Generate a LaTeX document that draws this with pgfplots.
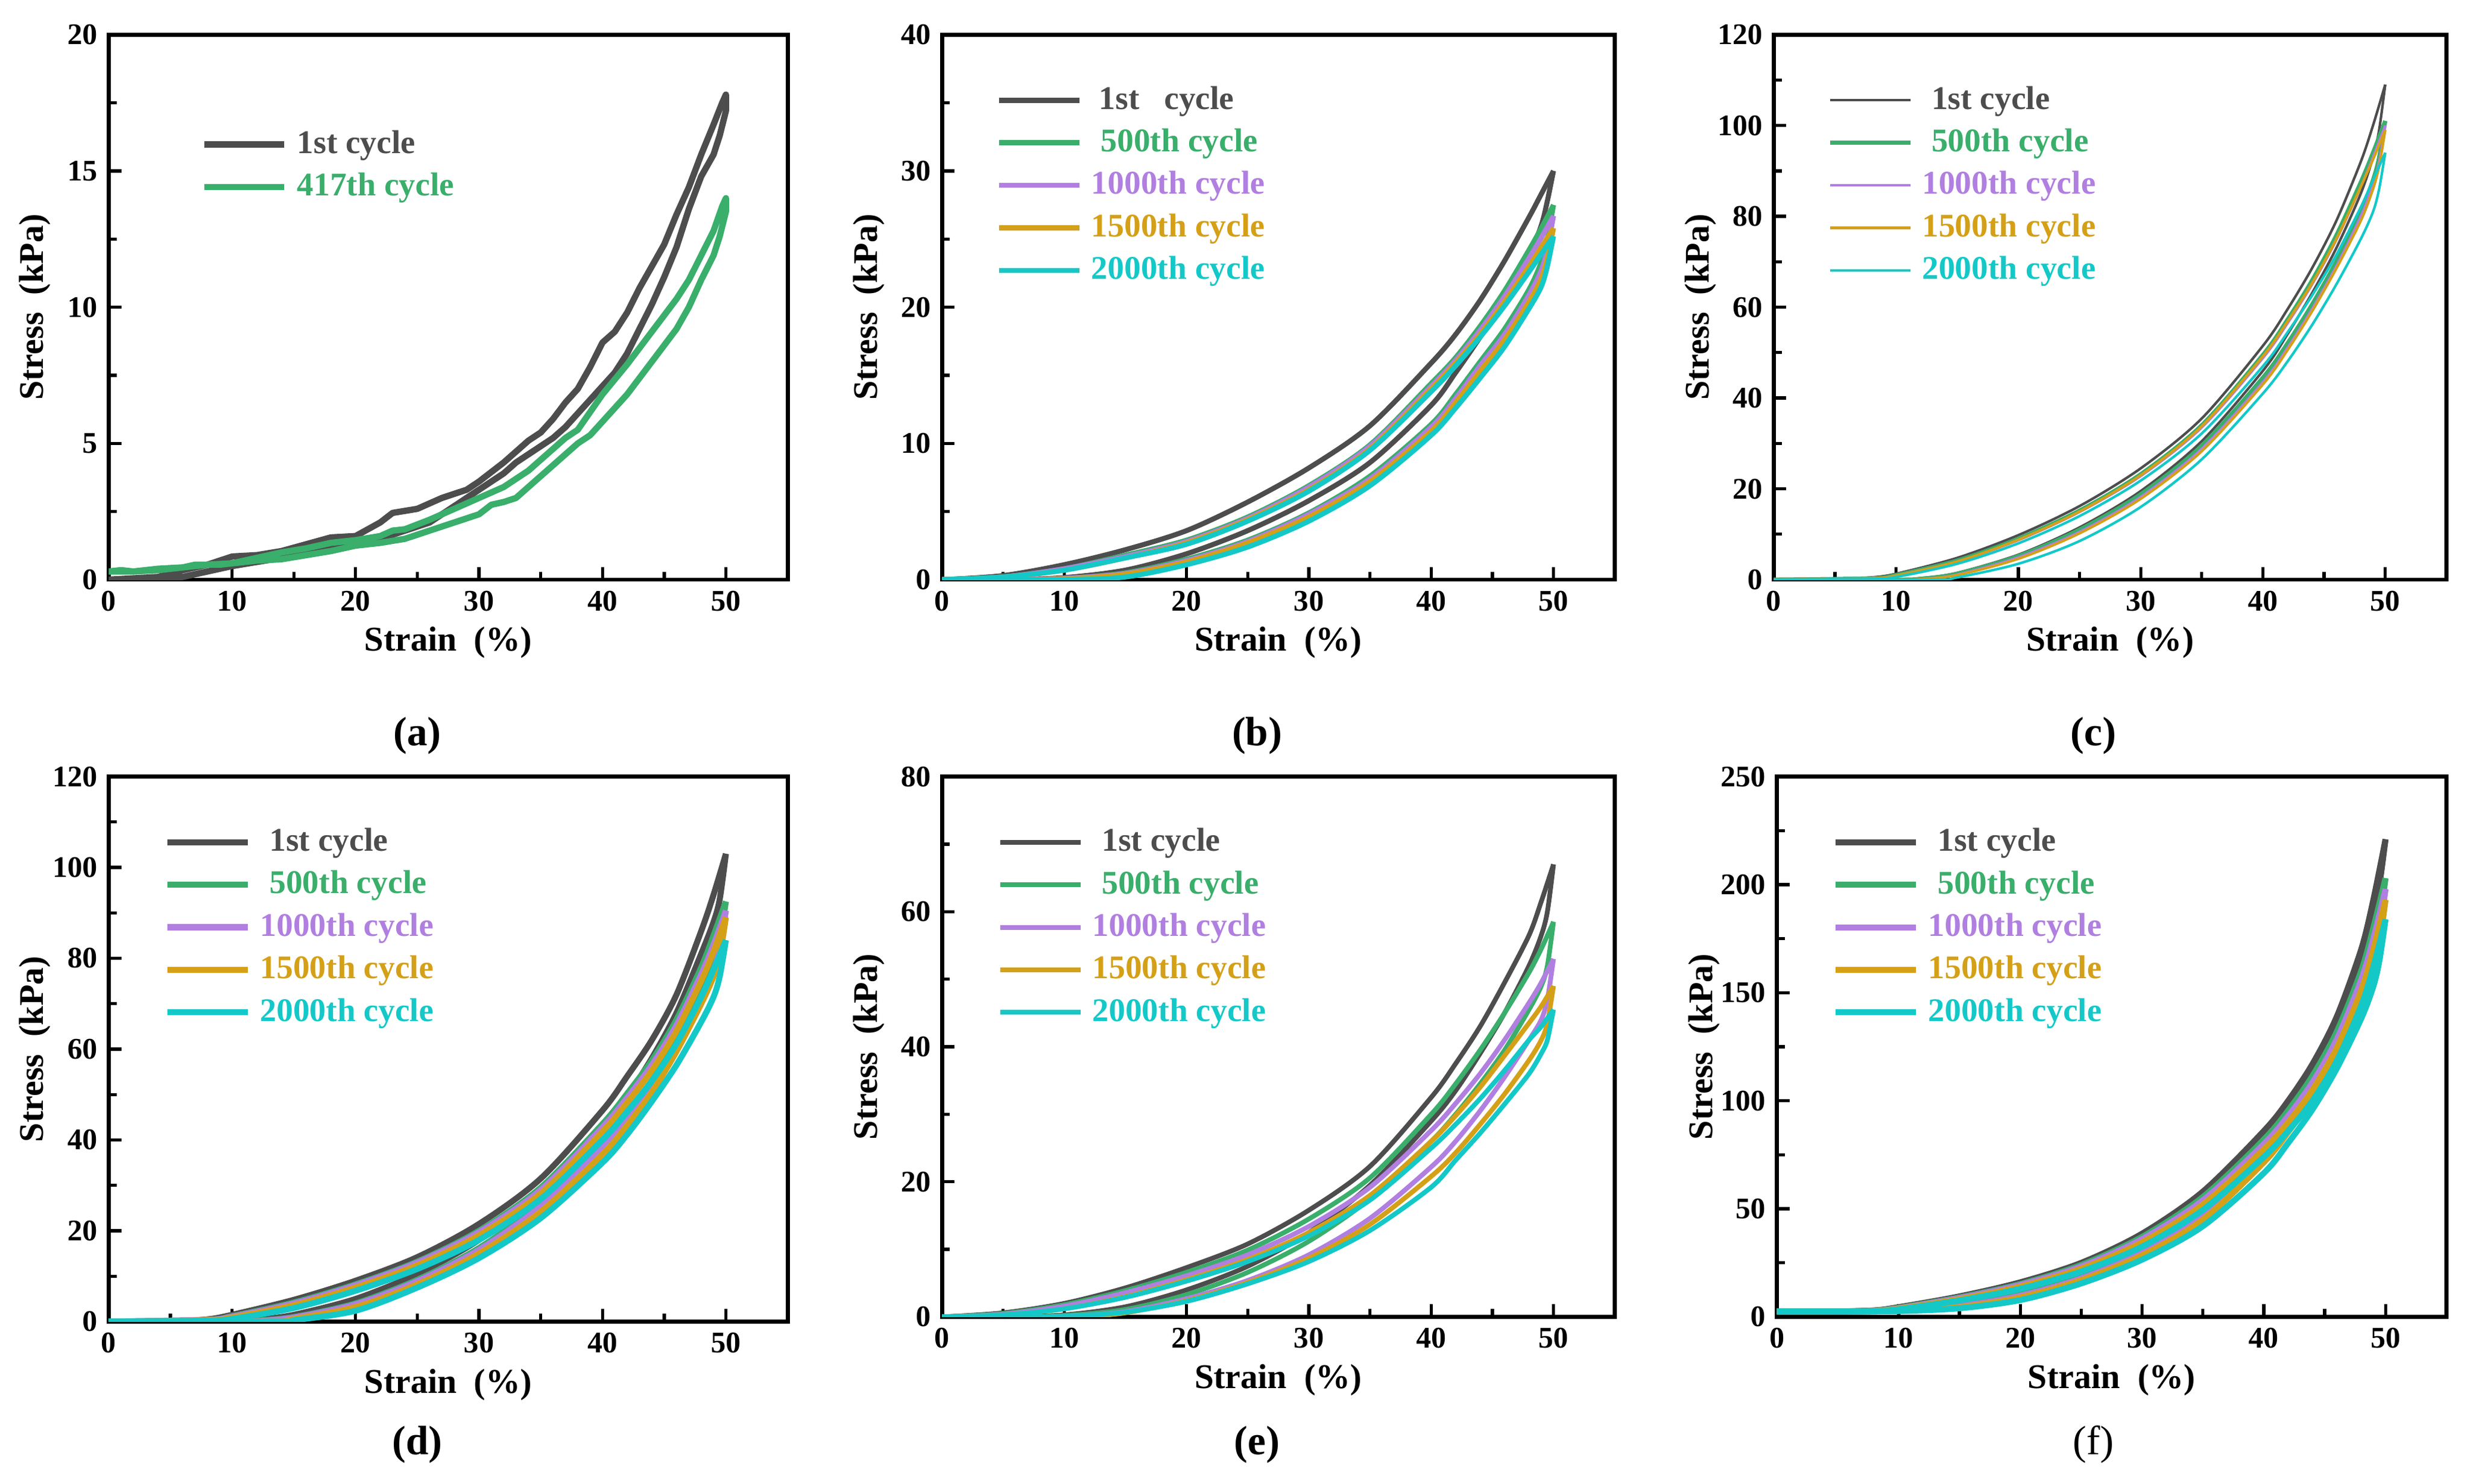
\documentclass[border=0pt]{standalone}
\usepackage{fontspec}
\setmainfont{Liberation Serif}
\usepackage{pgfplots}
\pgfplotsset{compat=1.18}
\definecolor{cgray}{HTML}{4D4D4D}
\definecolor{cgreen}{HTML}{3AAE6B}
\definecolor{cpurple}{HTML}{B07FE0}
\definecolor{corange}{HTML}{D4A017}
\definecolor{ccyan}{HTML}{14C8C8}
\pgfplotsset{
 panel/.style={
  scale only axis, anchor=south west,
  xmin=0, xmax=55, ymin=0,
  xtick={0,10,20,30,40,50},
  minor x tick num=1, minor y tick num=1,
  tick align=inside, xtick pos=bottom, ytick pos=left,
  major tick length=4pt, minor tick length=2.5pt,
  every tick/.style={line width=1pt, black},
  axis line style={line width=1.3pt},
  /pgf/number format/assume math mode=true,
  ticklabel style={font=\fontsize{9.5}{11}\selectfont\bfseries},
  xlabel={Strain\ \ (\%)}, ylabel={Stress\ \ (kPa)},
  label style={font=\fontsize{11}{13}\selectfont\bfseries},
  xlabel style={at={(axis description cs:0.5,0)}, yshift=-20pt, anchor=center},
  ylabel style={at={(axis description cs:-0.109,0.5)}, anchor=center},
  legend cell align=left,
  legend image code/.code={\draw[##1] (0pt,0.3pt) -- (25.5pt,0.3pt);},
  legend style={draw=none, fill=none, anchor=north west, inner sep=0pt, row sep=4.5pt, column sep=3pt, font=\fontsize{10.5}{12}\selectfont\bfseries, nodes={inner sep=0pt, text height=7pt, text depth=2pt}},
  every axis plot/.append style={line join=round},
 }
}
\begin{document}
\begin{tikzpicture}
\path[use as bounding box] (0,0) rectangle (784pt,471pt);
% (a)
\begin{axis}[panel, at={(34.5pt,287pt)}, width=215.5pt, height=173pt, ymax=20, ytick={0,5,10,15,20},
  legend style={at={(axis description cs:0.135,0.824)}}]
\addplot[cgray, line width=2pt] coordinates {(0,0)(2,0.05)(4,0.1)(6,0.35)(8,0.55)(10,0.85)(12,0.9)(14,1.05)(16,1.3)(18,1.55)(20,1.6)(22,2.1)(23,2.45)(25,2.6)(27,3.0)(29,3.3)(30,3.6)(32,4.3)(33,4.7)(34,5.1)(35,5.4)(36,5.9)(37,6.5)(38,7.0)(39,7.8)(40,8.7)(41,9.1)(42,9.8)(43,10.7)(44,11.5)(45,12.3)(46,13.4)(47,14.4)(48,15.6)(49,16.7)(49.7,17.5)(50,17.8)(50,17.2)(49.5,16.3)(49,15.6)(48,14.8)(47,13.6)(46,12.2)(45,11.1)(44,10.1)(43,9.2)(42,8.3)(41,7.6)(40,7.1)(39,6.6)(38,6.1)(37,5.6)(36,5.2)(35,4.9)(34,4.6)(33,4.3)(32,3.9)(31,3.6)(30,3.3)(29,3.0)(28,2.7)(27,2.4)(26,2.1)(25,1.95)(24,1.8)(22,1.5)(20,1.3)(18,1.15)(16,0.95)(14,0.8)(12,0.65)(10,0.5)(8,0.3)(6,0.1)(4,0)(0,0)};
\addlegendentry{\textcolor{cgray}{1st cycle}}
\addplot[cgreen, line width=2pt] coordinates {(0,0.3)(1,0.35)(2,0.3)(4,0.4)(6,0.45)(7,0.55)(9,0.55)(10,0.6)(12,0.8)(14,1.0)(16,1.15)(18,1.35)(20,1.45)(22,1.6)(23,1.8)(24,1.85)(26,2.2)(28,2.6)(30,3.0)(32,3.4)(34,4.0)(36,4.8)(37,5.2)(38,5.5)(40,6.8)(42,7.9)(44,9.1)(46,10.3)(47,11.0)(48,11.9)(49,12.8)(49.7,13.7)(50,14.0)(50,13.5)(49.5,12.6)(49,11.9)(48,11.0)(47,10.0)(46,9.2)(45,8.6)(44,8.0)(43,7.4)(42,6.8)(41,6.3)(40,5.8)(39,5.3)(38,5.0)(37,4.6)(36,4.2)(35,3.8)(34,3.4)(33,3.0)(32,2.85)(31,2.75)(30,2.4)(28,2.1)(26,1.8)(24,1.5)(22,1.35)(20,1.25)(18,1.05)(16,0.9)(14,0.75)(12,0.7)(10,0.6)(8,0.55)(6,0.45)(4,0.35)(2,0.3)(0,0.3)};
\addlegendentry{\textcolor{cgreen}{417th cycle}}
\end{axis}
% (b)
\begin{axis}[panel, at={(299pt,287pt)}, width=213.5pt, height=173pt, ymax=40, ytick={0,10,20,30,40},
  legend style={at={(axis description cs:0.08,0.905)}},
  every axis plot/.append style={smooth, line width=1.6pt}]
\addplot[cgray] coordinates {(0,0)(5,0.3)(10,1.1)(15,2.2)(20,3.6)(25,5.7)(30,8.2)(35,11.3)(40,15.9)(42,18.0)(44,20.5)(46,23.4)(48,26.6)(49,28.3)(50,30.0)};
\addlegendentry{\textcolor{cgray}{\hspace{2.5pt}1st\ \ \ cycle}}
\addplot[cgray, forget plot] coordinates {(50,30.0)(49.5,27.8)(49,26.0)(48,23.8)(46,20.6)(44,17.8)(42,15.2)(40,12.8)(35,8.6)(30,5.8)(25,3.6)(20,1.9)(15,0.7)(10,0.15)(5,0)(0,0)};
\addplot[cgreen] coordinates {(0,0)(5,0.2)(10,0.8)(15,1.8)(20,2.9)(25,4.6)(30,6.9)(35,9.9)(40,14.4)(42,16.3)(44,18.6)(46,21.2)(48,24.2)(49,25.8)(50,27.5)};
\addlegendentry{\textcolor{cgreen}{\hspace{3pt}500th cycle}}
\addplot[cgreen, forget plot] coordinates {(50,27.5)(49.5,25.0)(49,23.3)(48,21.3)(46,18.4)(44,16.0)(42,13.6)(40,11.4)(35,7.6)(30,4.9)(25,2.9)(20,1.5)(15,0.5)(10,0.1)(5,0)(0,0)};
\addplot[cpurple] coordinates {(0,0)(5,0.2)(10,0.8)(15,1.7)(20,2.8)(25,4.5)(30,6.8)(35,9.8)(40,14.2)(42,16.1)(44,18.3)(46,20.8)(48,23.6)(49,25.1)(50,26.7)};
\addlegendentry{\textcolor{cpurple}{1000th cycle}}
\addplot[cpurple, forget plot] coordinates {(50,26.7)(49.5,24.3)(49,22.7)(48,20.9)(46,18.0)(44,15.7)(42,13.3)(40,11.2)(35,7.4)(30,4.8)(25,2.8)(20,1.4)(15,0.45)(10,0.1)(5,0)(0,0)};
\addplot[corange] coordinates {(0,0)(5,0.2)(10,0.7)(15,1.6)(20,2.7)(25,4.4)(30,6.6)(35,9.6)(40,14.0)(42,15.9)(44,18.0)(46,20.4)(48,23.0)(49,24.4)(50,25.8)};
\addlegendentry{\textcolor{corange}{1500th cycle}}
\addplot[corange, forget plot] coordinates {(50,25.8)(49.5,23.6)(49,22.1)(48,20.4)(46,17.6)(44,15.3)(42,13.0)(40,10.9)(35,7.2)(30,4.6)(25,2.7)(20,1.3)(15,0.4)(10,0.05)(5,0)(0,0)};
\addplot[ccyan] coordinates {(0,0)(5,0.2)(10,0.7)(15,1.6)(20,2.6)(25,4.3)(30,6.5)(35,9.5)(40,13.8)(42,15.7)(44,17.8)(46,20.1)(48,22.6)(49,23.9)(50,25.2)};
\addlegendentry{\textcolor{ccyan}{2000th cycle}}
\addplot[ccyan, forget plot] coordinates {(50,25.2)(49.5,23.0)(49,21.5)(48,19.9)(46,17.1)(44,14.8)(42,12.6)(40,10.6)(35,6.9)(30,4.3)(25,2.4)(20,1.1)(15,0.2)(10,0)(0,0)};
\end{axis}
% (c)
\begin{axis}[panel, at={(563pt,287pt)}, width=213.5pt, height=173pt, ymax=120, ytick={0,20,40,60,80,100,120},
  legend style={at={(axis description cs:0.08,0.905)}},
  every axis plot/.append style={smooth, line width=0.8pt}]
\addplot[cgray] coordinates {(0,0)(5,0)(8,0.5)(10,1.3)(15,4.8)(20,9.8)(25,16.2)(30,24.5)(35,35.5)(40,51.5)(42,59.5)(44,68.5)(46,79)(48,92)(49,100)(50,109)};
\addlegendentry{\textcolor{cgray}{\hspace{3pt}1st cycle}}
\addplot[cgray, forget plot] coordinates {(50,109)(49.5,99)(49,93)(48,85)(46,73)(44,63)(42,54)(40,46)(35,30.5)(30,19.5)(25,11.5)(20,5.5)(15,1.5)(12,0.3)(10,0)(0,0)};
\addplot[cgreen, line width=1.3pt] coordinates {(0,0)(8,0.3)(10,1.0)(15,4.2)(20,9.0)(25,15.2)(30,23.2)(35,34)(40,49.5)(42,57.2)(44,65.8)(46,75.8)(48,87.5)(49,94)(50,101)};
\addlegendentry{\textcolor{cgreen}{\hspace{3pt}500th cycle}}
\addplot[cgreen, line width=1.3pt, forget plot] coordinates {(50,101)(49.5,93)(49,88)(48,81)(46,70)(44,60.5)(42,52)(40,44.5)(35,29.5)(30,18.8)(25,11)(20,5.2)(15,1.3)(12,0.2)(10,0)(0,0)};
\addplot[cpurple] coordinates {(0,0)(8,0.3)(10,0.9)(15,4.0)(20,8.7)(25,14.9)(30,22.8)(35,33.5)(40,48.8)(42,56.4)(44,64.9)(46,74.8)(48,86.5)(49,93)(50,100)};
\addlegendentry{\textcolor{cpurple}{1000th cycle}}
\addplot[cpurple, forget plot] coordinates {(50,100)(49.5,92)(49,87)(48,80)(46,69)(44,59.5)(42,51)(40,43.5)(35,28.8)(30,18.2)(25,10.5)(20,4.9)(15,1.1)(12,0.1)(10,0)(0,0)};
\addplot[corange] coordinates {(0,0)(8,0.3)(10,0.9)(15,4.0)(20,8.8)(25,15.0)(30,23.0)(35,33.8)(40,49.2)(42,56.8)(44,65.2)(46,75)(48,86.5)(49,92.5)(50,99)};
\addlegendentry{\textcolor{corange}{1500th cycle}}
\addplot[corange, forget plot] coordinates {(50,99)(49.5,91)(49,86)(48,79)(46,68.5)(44,59)(42,50.5)(40,43)(35,28.3)(30,17.8)(25,10.2)(20,4.6)(15,1.0)(12,0.1)(10,0)(0,0)};
\addplot[ccyan] coordinates {(0,0)(8,0.2)(10,0.6)(15,3.5)(20,8.0)(25,14.0)(30,21.8)(35,32.2)(40,47.0)(42,54.4)(44,62.5)(46,71.5)(48,82)(49,88)(50,94)};
\addlegendentry{\textcolor{ccyan}{2000th cycle}}
\addplot[ccyan, forget plot] coordinates {(50,94)(49.5,86)(49,81)(48,75)(46,65)(44,56)(42,48)(40,41)(35,26.5)(30,16)(25,8.5)(20,3.5)(15,0.5)(13,0)(0,0)};
\end{axis}
% (d)
\begin{axis}[panel, at={(34.5pt,51.5pt)}, width=215.5pt, height=173pt, ymax=120, ytick={0,20,40,60,80,100,120},
  legend style={at={(axis description cs:0.081,0.905)}},
  every axis plot/.append style={smooth, line width=1.9pt}]
\addplot[cgray] coordinates {(0,0)(5,0)(8,0.5)(10,1.5)(15,4.8)(20,9.0)(25,14.2)(30,21.5)(35,31.5)(40,46.5)(42,54)(44,62)(46,72)(48,86)(49,94)(50,103)};
\addlegendentry{\textcolor{cgray}{\hspace{3pt}1st cycle}}
\addplot[cgray, forget plot] coordinates {(50,103)(49.5,93)(49,88)(48,81)(46,68)(44,58)(42,49.5)(40,42.5)(35,28.5)(30,18)(25,10.5)(20,5.0)(15,1.5)(12,0.4)(10,0)(0,0)};
\addplot[cgreen] coordinates {(0,0)(8,0.4)(10,1.2)(15,4.2)(20,8.2)(25,13.2)(30,20.0)(35,29.5)(40,43.5)(42,50.2)(44,57.5)(46,66.5)(48,78)(49,85)(50,92.5)};
\addlegendentry{\textcolor{cgreen}{\hspace{3pt}500th cycle}}
\addplot[cgreen, forget plot] coordinates {(50,92.5)(49.5,84)(49,79)(48,73)(46,62)(44,53)(42,45.5)(40,39)(35,26)(30,16.2)(25,9.2)(20,4.0)(15,1.0)(12,0.2)(10,0)(0,0)};
\addplot[cpurple] coordinates {(0,0)(8,0.4)(10,1.1)(15,4.0)(20,8.0)(25,13.0)(30,19.7)(35,29.0)(40,42.8)(42,49.3)(44,56.5)(46,65.3)(48,76.5)(49,83)(50,90.5)};
\addlegendentry{\textcolor{cpurple}{1000th cycle}}
\addplot[cpurple, forget plot] coordinates {(50,90.5)(49.5,82)(49,77.5)(48,71.5)(46,61)(44,52)(42,44.6)(40,38.2)(35,25.4)(30,15.8)(25,8.9)(20,3.8)(15,0.9)(12,0.1)(10,0)(0,0)};
\addplot[corange] coordinates {(0,0)(8,0.3)(10,0.9)(15,3.6)(20,7.5)(25,12.4)(30,19.0)(35,28.2)(40,41.8)(42,48.2)(44,55.3)(46,64)(48,75)(49,81.5)(50,89)};
\addlegendentry{\textcolor{corange}{1500th cycle}}
\addplot[corange, forget plot] coordinates {(50,89)(49.5,80.5)(49,76)(48,70)(46,59.5)(44,50.5)(42,43.2)(40,36.8)(35,24.2)(30,15.0)(25,8.2)(20,3.2)(15,0.6)(13,0)(0,0)};
\addplot[ccyan] coordinates {(0,0)(8,0.2)(10,0.6)(15,3.0)(20,6.8)(25,11.6)(30,18.0)(35,27.0)(40,40.0)(42,46.2)(44,53)(46,61.2)(48,71.5)(49,77.5)(50,84)};
\addlegendentry{\textcolor{ccyan}{2000th cycle}}
\addplot[ccyan, forget plot] coordinates {(50,84)(49.5,76)(49,71.5)(48,66)(46,56.5)(44,48.5)(42,41.2)(40,35)(35,22.8)(30,14.0)(25,7.5)(20,2.4)(15,0.3)(14,0)(0,0)};
\end{axis}
% (e)
\begin{axis}[panel, at={(299pt,53pt)}, width=213.5pt, height=171.5pt, ymax=80, ytick={0,20,40,60,80},
  legend style={at={(axis description cs:0.082,0.904)}},
  every axis plot/.append style={smooth, line width=1.5pt}]
\addplot[cgray] coordinates {(0,0)(5,0.6)(10,2.0)(15,4.3)(20,7.3)(25,10.8)(30,15.8)(35,22.3)(40,32.5)(42,37.5)(44,43)(46,49.5)(48,56.5)(49,61.5)(50,67)};
\addlegendentry{\textcolor{cgray}{\hspace{3pt}1st cycle}}
\addplot[cgray, forget plot] coordinates {(50,67)(49.5,60)(49,56.5)(48,52)(46,45)(44,39)(42,33.5)(40,29)(35,19.5)(30,12.5)(25,7.5)(20,4.0)(15,1.5)(10,0.3)(5,0)(0,0)};
\addplot[cgreen] coordinates {(0,0)(5,0.5)(10,1.8)(15,3.9)(20,6.6)(25,9.9)(30,14.5)(35,20.6)(40,30.0)(42,34.5)(44,39.5)(46,45)(48,51)(49,54.5)(50,58.5)};
\addlegendentry{\textcolor{cgreen}{\hspace{3pt}500th cycle}}
\addplot[cgreen, forget plot] coordinates {(50,58.5)(49.5,52)(49,49)(48,45.5)(46,39.5)(44,34.5)(42,30)(40,26)(35,17.5)(30,11.2)(25,6.6)(20,3.3)(15,1.1)(10,0.2)(5,0)(0,0)};
\addplot[cpurple] coordinates {(0,0)(5,0.4)(10,1.6)(15,3.6)(20,6.1)(25,9.2)(30,13.4)(35,19.2)(40,27.6)(42,31.6)(44,36)(46,41)(48,46.5)(49,49.5)(50,53)};
\addlegendentry{\textcolor{cpurple}{1000th cycle}}
\addplot[cpurple, forget plot] coordinates {(50,53)(49.5,47)(49,44)(48,41)(46,35.5)(44,30.5)(42,26)(40,22.2)(35,14.6)(30,9.2)(25,5.4)(20,2.7)(15,0.8)(10,0.1)(5,0)(0,0)};
\addplot[corange] coordinates {(0,0)(5,0.3)(10,1.2)(15,3.0)(20,5.5)(25,8.5)(30,12.5)(35,18.0)(40,26.0)(42,29.8)(44,34)(46,38.7)(48,43.5)(49,46)(50,49)};
\addlegendentry{\textcolor{corange}{1500th cycle}}
\addplot[corange, forget plot] coordinates {(50,49)(49.5,43.5)(49,41)(48,38)(46,33)(44,28.5)(42,24.3)(40,20.8)(35,13.7)(30,8.7)(25,5.1)(20,2.4)(15,0.6)(12,0.1)(10,0)(0,0)};
\addplot[ccyan] coordinates {(0,0)(5,0.3)(10,1.2)(15,2.9)(20,5.3)(25,8.2)(30,12.0)(35,17.3)(40,25.0)(42,28.5)(44,32.3)(46,36.5)(48,41)(49,43)(50,45.5)};
\addlegendentry{\textcolor{ccyan}{2000th cycle}}
\addplot[ccyan, forget plot] coordinates {(50,45.5)(49.5,41)(49,39)(48,36)(46,31.5)(44,27.2)(42,23.2)(40,19.2)(35,12.8)(30,8.2)(25,4.9)(20,2.3)(15,0.7)(10,0.1)(5,0)(0,0)};
\end{axis}
% (f)
\begin{axis}[panel, at={(564pt,53pt)}, width=212.5pt, height=171.5pt, ymax=250, ytick={0,50,100,150,200,250},
  legend style={at={(axis description cs:0.082,0.904)}},
  every axis plot/.append style={smooth, line width=1.9pt}]
\addplot[cgray] coordinates {(0,2.5)(5,2.5)(8,3.0)(10,4.5)(15,9.5)(20,16)(25,25)(30,38.5)(35,58)(40,86)(42,100)(44,117)(46,139)(48,170)(49,193)(50,221)};
\addlegendentry{\textcolor{cgray}{\hspace{3pt}1st cycle}}
\addplot[cgray, forget plot] coordinates {(50,221)(49.5,200)(49,186)(48,163)(46,135)(44,114)(42,96)(40,80)(35,51)(30,32.5)(25,20.5)(20,12)(15,6.5)(10,3.5)(5,2.5)(0,2.5)};
\addplot[cgreen] coordinates {(0,2.5)(5,2.5)(8,2.9)(10,4.2)(15,9.0)(20,15.2)(25,24)(30,37)(35,55.5)(40,82)(42,95.5)(44,111.5)(46,132)(48,160)(49,180)(50,203)};
\addlegendentry{\textcolor{cgreen}{\hspace{3pt}500th cycle}}
\addplot[cgreen, forget plot] coordinates {(50,203)(49.5,183)(49,171)(48,154)(46,128)(44,108)(42,91)(40,76)(35,48)(30,30.5)(25,18.5)(20,10.5)(15,5.5)(10,3.2)(5,2.5)(0,2.5)};
\addplot[cpurple] coordinates {(0,2.5)(5,2.5)(8,2.8)(10,4.0)(15,8.7)(20,14.8)(25,23.3)(30,36)(35,54)(40,80)(42,93)(44,108.5)(46,128.5)(48,156)(49,175)(50,198)};
\addlegendentry{\textcolor{cpurple}{1000th cycle}}
\addplot[cpurple, forget plot] coordinates {(50,198)(49.5,178)(49,166)(48,150)(46,125)(44,105)(42,88.5)(40,74)(35,46.5)(30,29.5)(25,17.8)(20,9.8)(15,5)(10,3)(5,2.5)(0,2.5)};
\addplot[corange] coordinates {(0,2.5)(5,2.5)(8,2.7)(10,3.8)(15,8.2)(20,14)(25,22.3)(30,34.5)(35,52)(40,77.5)(42,90)(44,105)(46,124.5)(48,151)(49,170)(50,193)};
\addlegendentry{\textcolor{corange}{1500th cycle}}
\addplot[corange, forget plot] coordinates {(50,193)(49.5,173)(49,161)(48,145)(46,121)(44,101.5)(42,85.5)(40,71.5)(35,45)(30,28.5)(25,17)(20,9)(15,4.5)(10,2.8)(5,2.5)(0,2.5)};
\addplot[ccyan] coordinates {(0,2.5)(5,2.5)(8,2.6)(10,3.5)(15,7.6)(20,13)(25,21)(30,32.5)(35,49.5)(40,74)(42,86)(44,100)(46,118.5)(48,144)(49,162)(50,184)};
\addlegendentry{\textcolor{ccyan}{2000th cycle}}
\addplot[ccyan, forget plot] coordinates {(50,184)(49.5,165)(49,153)(48,138)(46,115)(44,96)(42,80.5)(40,66.5)(35,42)(30,26.5)(25,15.5)(20,7.8)(15,4.0)(10,2.7)(5,2.5)(0,2.5)};
\end{axis}
\node[font=\fontsize{13}{15}\selectfont\bfseries] at (132.5pt,237.5pt) {(a)};
\node[font=\fontsize{13}{15}\selectfont\bfseries] at (399pt,237.5pt) {(b)};
\node[font=\fontsize{13}{15}\selectfont\bfseries] at (664.5pt,237.5pt) {(c)};
\node[font=\fontsize{13}{15}\selectfont\bfseries] at (132.5pt,12.5pt) {(d)};
\node[font=\fontsize{13}{15}\selectfont\bfseries] at (399pt,12.5pt) {(e)};
\node[font=\fontsize{13}{15}\selectfont] at (664.5pt,12.5pt) {(f)};
\end{tikzpicture}
\end{document}
